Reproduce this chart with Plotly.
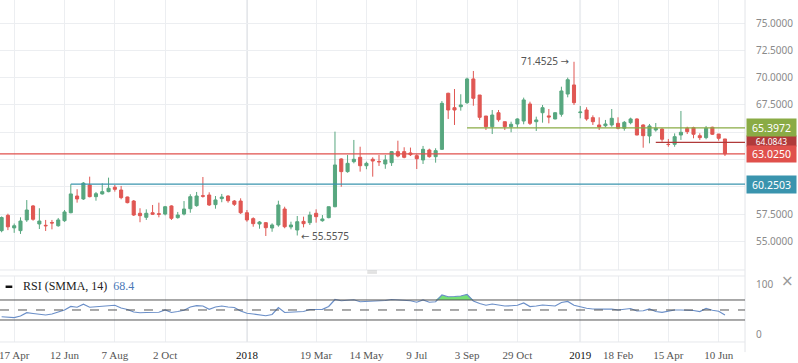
import plotly.graph_objects as go
from datetime import datetime, timedelta

# ---------------- data (weekly candles, first candle week of 2017-04-03) ----------------
first_week = "2017-04-03"
open_ = [56.00, 57.40, 56.25, 56.00, 56.98, 58.26, 56.61, 56.49, 56.75, 56.45,
         56.91, 57.64, 59.17, 58.90, 60.18, 59.11, 59.36, 59.57, 59.97, 59.72,
         59.08, 58.71, 57.59, 57.22, 57.64, 57.55, 57.52, 58.26, 57.19, 57.52,
         58.01, 58.29, 59.20, 59.26, 58.38, 58.93, 59.17, 58.71, 58.71, 57.64,
         57.10, 56.61, 56.73, 56.24, 56.52, 57.98, 56.34, 56.06, 56.85, 56.73,
         57.59, 56.91, 57.19, 58.19, 62.56, 61.40, 62.31, 62.71, 61.94, 62.53,
         62.33, 62.10, 62.22, 63.23, 63.23, 63.11, 62.86, 62.47, 63.38, 62.77,
         63.44, 68.57, 67.25, 67.34, 67.71, 69.88, 68.41, 66.49, 65.51, 66.79,
         65.97, 65.51, 65.76, 66.03, 67.59, 65.97, 66.79, 66.50, 66.22, 66.65,
         68.50, 69.33, 66.80, 67.04, 66.34, 65.67, 65.60, 65.67, 65.82, 65.37,
         65.88, 66.22, 65.67, 64.66, 65.21, 65.30, 63.90, 63.90, 64.75, 65.37,
         65.42, 64.69, 64.51, 65.46, 64.84, 64.39]
high_ = [57.30, 57.55, 56.65, 57.22, 58.80, 58.35, 58.05, 56.98, 56.98, 57.16,
         57.89, 60.2503, 59.79, 60.45, 60.94, 59.54, 60.33, 60.85, 60.18, 60.09,
         59.11, 58.80, 58.05, 57.95, 58.35, 58.56, 58.26, 58.32, 57.71, 58.71,
         59.33, 59.54, 60.91, 59.51, 59.17, 59.36, 59.23, 58.80, 58.96, 57.89,
         57.22, 56.88, 56.79, 56.67, 58.74, 58.19, 56.82, 57.34, 57.28, 57.74,
         57.95, 57.43, 58.20, 65.06, 62.62, 62.92, 64.30, 63.68, 62.31, 62.71,
         62.92, 62.92, 63.29, 64.23, 63.63, 63.60, 63.00, 63.75, 63.50, 63.54,
         67.86, 68.62, 68.96, 68.48, 70.00, 70.61, 68.41, 66.49, 67.04, 67.04,
         65.97, 65.97, 66.28, 68.17, 67.80, 66.43, 67.50, 67.13, 66.83, 69.17,
         70.00, 71.4525, 67.40, 67.29, 66.55, 66.37, 66.13, 67.13, 66.37, 66.03,
         66.34, 66.28, 65.73, 65.76, 65.85, 65.37, 64.39, 64.90, 66.95, 65.51,
         65.51, 64.91, 65.58, 65.51, 64.84, 64.39]
low_ = [55.85, 56.05, 55.80, 55.70, 56.80, 56.91, 56.15, 55.97, 56.12, 56.36,
        56.80, 57.59, 58.56, 58.81, 59.05, 58.74, 59.30, 59.51, 59.57, 58.87,
        58.50, 57.34, 56.77, 56.98, 57.43, 57.22, 57.40, 56.98, 57.10, 57.40,
        57.64, 58.19, 59.02, 58.26, 58.01, 58.60, 58.56, 58.26, 57.53, 56.82,
        56.36, 56.18, 55.51, 55.90, 56.36, 56.22, 56.12, 55.5575, 56.30, 56.52,
        56.73, 56.82, 57.13, 58.14, 60.02, 61.30, 62.16, 61.40, 61.62, 60.94,
        61.92, 61.66, 61.92, 62.71, 62.62, 62.83, 61.64, 62.10, 62.68, 62.22,
        63.38, 66.22, 65.67, 66.98, 67.59, 67.43, 66.13, 65.21, 64.84, 65.97,
        65.21, 65.00, 65.42, 65.73, 65.67, 65.12, 65.88, 65.82, 66.19, 66.43,
        68.20, 67.50, 66.28, 66.06, 65.67, 65.21, 65.46, 65.51, 65.27, 65.15,
        65.73, 64.73, 63.59, 63.99, 65.06, 64.14, 63.68, 63.68, 64.30, 64.84,
        64.45, 64.30, 64.36, 64.75, 64.23, 62.83]
close_ = [57.20, 56.35, 56.45, 56.88, 57.89, 57.04, 56.88, 56.45, 56.70, 56.98,
          57.71, 59.36, 58.90, 60.35, 59.11, 59.38, 59.57, 59.88, 59.78, 59.02,
          58.56, 57.43, 57.37, 57.59, 57.50, 57.50, 58.19, 57.13, 57.43, 57.98,
          59.11, 59.17, 59.15, 58.35, 58.81, 59.08, 58.74, 58.41, 57.64, 56.98,
          56.64, 56.79, 56.27, 56.52, 58.35, 56.36, 56.52, 56.82, 56.64, 57.43,
          57.28, 57.07, 58.19, 62.01, 61.40, 62.16, 62.53, 61.94, 62.16, 62.37,
          62.30, 62.47, 63.23, 62.83, 62.71, 62.95, 62.58, 63.44, 62.77, 63.32,
          67.65, 67.04, 67.04, 67.50, 69.88, 68.11, 66.37, 65.51, 66.58, 66.15,
          65.51, 65.73, 66.22, 67.96, 65.82, 66.13, 67.25, 66.40, 66.79, 68.78,
          69.81, 67.71, 66.85, 66.22, 65.97, 65.48, 65.76, 66.28, 65.37, 65.91,
          66.22, 64.75, 64.69, 65.58, 65.37, 64.36, 63.88, 64.60, 65.00, 65.06,
          64.82, 64.51, 65.37, 64.82, 64.45, 63.025]
rsi = [36.5, 35.5, 34.7, 38.0, 44.5, 43.0, 41.0, 40.0, 42.0, 46.0,
       50.0, 57.0, 55.5, 61.5, 55.5, 56.5, 57.0, 58.5, 59.5, 54.0,
       51.0, 46.0, 44.5, 45.0, 45.0, 45.5, 50.0, 45.0, 47.0, 49.5,
       56.0, 58.7, 58.0, 51.5, 56.0, 58.0, 56.0, 55.0, 48.0, 43.5,
       42.0, 41.0, 38.5, 41.0, 55.0, 45.0, 45.5, 46.0, 47.0, 51.0,
       51.0, 51.3, 57.0, 71.0, 68.5, 70.0, 70.5, 66.5, 67.0, 67.5,
       68.0, 69.0, 71.0, 70.0, 69.5, 68.5, 65.5, 70.0, 65.5, 66.5,
       80.0, 76.5, 77.0, 78.0, 81.0, 68.0, 63.0, 59.5, 62.0, 60.0,
       58.0, 58.5, 59.5, 64.0, 56.7, 58.0, 60.0, 59.0, 58.0, 65.0,
       67.0, 59.5, 56.0, 53.5, 52.0, 51.3, 51.7, 52.0, 50.0, 51.5,
       53.0, 48.0, 48.5, 52.0, 47.0, 45.3, 47.0, 50.0, 50.0, 50.0,
       49.0, 46.7, 53.0, 49.5, 47.5, 40.0]

tick_dates = ["2017-04-17", "2017-06-12", "2017-08-07", "2017-10-02", "2018-01-01",
              "2018-03-19", "2018-05-14", "2018-07-09", "2018-09-03", "2018-10-29",
              "2019-01-07", "2019-02-18", "2019-04-15", "2019-06-10"]
tick_labels = ["17 Apr", "12 Jun", "7 Aug", "2 Oct", "2018", "19 Mar", "14 May",
               "9 Jul", "3 Sep", "29 Oct", "2019", "18 Feb", "15 Apr", "10 Jun"]
price_ticks = [55.0, 57.5, 60.0, 62.5, 65.0, 67.5, 70.0, 72.5, 75.0]
# tick labels that sit under the price-level badges are not visible in the reference
price_tick_text = ["55.0000", "57.5000", "", "", "", "67.5000", "70.0000", "72.5000", "75.0000"]

level_current = 63.0250
level_support = 60.2503
level_resist = 65.3972
level_dark = 64.0843
level_max = 71.4525
level_min = 55.5575
rsi_value_text = "68.4"

# ---------------- build ----------------
t0 = datetime.strptime(first_week, "%Y-%m-%d")
dates = [t0 + timedelta(days=7 * i) for i in range(len(open_))]
x_start = datetime(2017, 4, 17) - timedelta(days=15.8)
x_end = datetime(2017, 4, 17) + timedelta(days=813.3)

GREEN = "#57a77f"
RED = "#e05753"
SANS = "Noto Sans"

fig = go.Figure()
fig.add_trace(go.Candlestick(
    x=dates, open=open_, high=high_, low=low_, close=close_,
    increasing=dict(line=dict(color=GREEN, width=1), fillcolor=GREEN),
    decreasing=dict(line=dict(color=RED, width=1), fillcolor=RED),
    whiskerwidth=0, showlegend=False, xaxis="x", yaxis="y"))

# RSI with overbought fill
fig.add_trace(go.Scatter(x=dates, y=[70] * len(rsi), mode="lines",
                         line=dict(width=0, color="rgba(0,0,0,0)"),
                         showlegend=False, xaxis="x2", yaxis="y2", hoverinfo="skip"))
fig.add_trace(go.Scatter(x=dates, y=[max(v, 70) for v in rsi], mode="lines",
                         line=dict(width=0, color="rgba(0,0,0,0)"),
                         fill="tonexty", fillcolor="rgba(110,222,110,0.95)",
                         showlegend=False, xaxis="x2", yaxis="y2", hoverinfo="skip"))
fig.add_trace(go.Scatter(x=dates, y=rsi, mode="lines",
                         line=dict(width=1.2, color="#6b8fc8"),
                         showlegend=False, xaxis="x2", yaxis="y2"))

grid = "#eceef1"
xcommon = dict(type="date", range=[x_start, x_end], tickvals=tick_dates,
               showgrid=True, gridcolor=grid, gridwidth=1, zeroline=False,
               showline=False, ticks="")
fig.update_layout(
    width=798, height=363,
    margin=dict(l=0, r=53, t=0, b=0, autoexpand=False),
    paper_bgcolor="white", plot_bgcolor="white",
    xaxis=dict(**xcommon, anchor="y", showticklabels=False,
               rangeslider=dict(visible=False)),
    xaxis2=dict(**xcommon, anchor="y2", matches="x",
                ticktext=[("<span style='color:#111'>%s</span>" % t) if t in ("2018", "2019") else t
                          for t in tick_labels],
                tickfont=dict(family="Liberation Serif", size=11, color="#555"),
                ticklabelstandoff=5, ticklabeloverflow="allow"),
    yaxis=dict(domain=[0.2562, 1.0], range=[52.40, 77.104], side="right",
               tickvals=price_ticks, ticktext=price_tick_text, showgrid=True,
               gridcolor=grid, zeroline=False, ticks="",
               tickfont=dict(family=SANS, size=10, color="#8a8a8a"),
               ticklabelstandoff=10, anchor="x"),
    yaxis2=dict(domain=[0.0579, 0.2397], range=[-14, 118], side="right",
                tickvals=[0, 100], showgrid=False, zeroline=False, ticks="",
                tickfont=dict(family=SANS, size=10, color="#8a8a8a"),
                ticklabelstandoff=10, anchor="x2"),
)

shapes = []
# year separators (darker grid)
for d in ("2018-01-01", "2019-01-07"):
    for xr, yr in (("x", "y"), ("x2", "y2")):
        shapes.append(dict(type="line", xref=xr, yref=yr + " domain", x0=d, x1=d, y0=0, y1=1,
                           line=dict(color="#d9dce1", width=1.5), layer="below"))
# panel frames
shapes.append(dict(type="line", xref="paper", yref="paper", x0=1, x1=1, y0=0.03, y1=1,
                   line=dict(color="#e2e4e8", width=1)))
for yp in (0.2562, 0.2397, 0.0579):
    shapes.append(dict(type="line", xref="paper", yref="paper", x0=0, x1=1, y0=yp, y1=yp,
                       line=dict(color="#e6e8ec", width=1)))
# separator handle
for yp in (0.2535, 0.2480):
    shapes.append(dict(type="line", xref="paper", yref="paper", x0=0.4930, x1=0.5060,
                       y0=yp, y1=yp, line=dict(color="#c8c8c8", width=1)))
# RSI legend dash
shapes.append(dict(type="line", xref="paper", yref="paper", x0=0.0075, x1=0.0165,
                   y0=0.2100, y1=0.2100, line=dict(color="#111", width=2.5)))
# RSI levels
for lv, dash in ((70, "solid"), (30, "solid"), (50, "dash")):
    shapes.append(dict(type="line", xref="x2", yref="y2", x0=x_start, x1=x_end, y0=lv, y1=lv,
                       line=dict(color="#555", width=1, dash=dash)))
# price levels
shapes.append(dict(type="line", xref="x", yref="y", x0=x_start, x1=x_end,
                   y0=level_current, y1=level_current, line=dict(color="#e0504c", width=1.3)))
shapes.append(dict(type="line", xref="x", yref="y", x0=dates[11], x1=x_end,
                   y0=level_support, y1=level_support, line=dict(color="#3a94ae", width=1.3)))
shapes.append(dict(type="line", xref="x", yref="y", x0=dates[74], x1=x_end,
                   y0=level_resist, y1=level_resist, line=dict(color="#8aab45", width=1.3)))
shapes.append(dict(type="line", xref="x", yref="y", x0=dates[104], x1=x_end,
                   y0=level_dark, y1=level_dark, line=dict(color="#b03a3a", width=1.3)))
fig.update_layout(shapes=shapes)

ann = []
def label(val, color, h=17, fs=10.5, ys=0):
    ann.append(dict(xref="paper", yref="y", x=1.0, y=val, xanchor="left", yanchor="middle",
                    xshift=1, yshift=ys, text="%.4f" % val, showarrow=False, bgcolor=color,
                    font=dict(family=SANS, size=fs, color="white"),
                    width=49, height=h, borderpad=0, align="center"))
label(level_dark, "#b03a3a", h=10, fs=8.5, ys=1)
label(level_resist, "#8aab45")
label(level_current, "#e0504c", h=16)
label(level_support, "#3a94ae")

ann.append(dict(xref="x", yref="y", x=dates[91], y=level_max, xanchor="right", yanchor="middle",
                xshift=-3, yshift=1,
                text="%.4f <span style='font-family:DejaVu Sans'>→</span>" % level_max,
                showarrow=False, font=dict(family=SANS, size=10, color="#555")))
ann.append(dict(xref="x", yref="y", x=dates[47], y=level_min, xanchor="left", yanchor="middle",
                xshift=2, yshift=-1,
                text="<span style='font-family:DejaVu Sans'>←</span> %.4f" % level_min,
                showarrow=False, font=dict(family=SANS, size=10, color="#555")))
ann.append(dict(xref="paper", yref="paper", x=0.028, y=0.2110, xanchor="left", yanchor="middle",
                text="RSI (SMMA, 14)  <span style='color:#4a78b8'>%s</span>" % rsi_value_text,
                showarrow=False, font=dict(family="Liberation Serif", size=12, color="#222")))
ann.append(dict(xref="paper", yref="paper", x=1.0564, y=0.2259, xanchor="center", yanchor="middle",
                text="×", showarrow=False, font=dict(family="DejaVu Sans", size=15, color="#999")))
fig.update_layout(annotations=ann)

fig.write_html("out.html", config={"displayModeBar": False},
               post_script="document.body.style.margin='0';document.body.style.padding='0';")
